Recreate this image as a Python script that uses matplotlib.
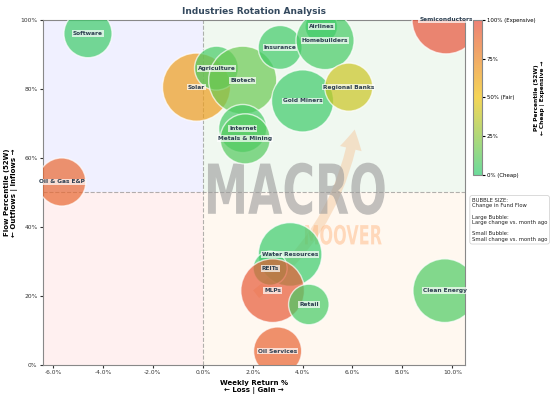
import numpy as np
import matplotlib
matplotlib.use("Agg")
import matplotlib.pyplot as plt
from matplotlib.colors import LinearSegmentedColormap
from matplotlib.ticker import FuncFormatter
from matplotlib.textpath import TextPath
from matplotlib.font_manager import FontProperties
from matplotlib.patches import PathPatch
from matplotlib.path import Path

# industry data
industries = ["Software", "Oil & Gas E&P", "Solar", "Agriculture", "Biotech",
              "Internet", "Metals & Mining", "Insurance", "Airlines", "Homebuilders",
              "Gold Miners", "Regional Banks", "Semiconductors", "Water Resources",
              "REITs", "MLPs", "Retail", "Clean Energy", "Oil Services"]
weekly_return = [-4.6, -5.65, -0.25, 0.55, 1.6,
                 1.6, 1.7, 3.1, 4.75, 4.9,
                 4.0, 5.85, 9.75, 3.5,
                 2.7, 2.8, 4.25, 9.7, 3.0]
flow_pct = [96, 53, 80.5, 86, 82.5,
            68.5, 65.5, 92, 98, 94,
            76.5, 80.5, 100, 32,
            28, 21.5, 17.5, 21.5, 4]
pe_pct = [4, 88, 66, 6, 16,
          6, 10, 5, 2, 6,
          4, 40, 97, 3,
          4, 94, 6, 8, 90]
flow_change = [12, 12, 24, 10, 24,
               12, 13, 10, 5.5, 17.5,
               20, 12, 24, 21,
               6, 21, 8.5, 21, 12]

cmap = LinearSegmentedColormap.from_list("pe", ["#2ecc71", "#f1c40f", "#e74c3c"])


def logo_text(ax, s, box, color, alpha):
    # squeeze a word into a box given in axes fraction (x0, y0, x1, y1)
    tp = TextPath((0, 0), s, size=10, prop=FontProperties(family="DejaVu Sans", weight="bold"))
    ext = tp.get_extents()
    v = tp.vertices.copy()
    v[:, 0] = box[0] + (v[:, 0] - ext.x0) / ext.width * (box[2] - box[0])
    v[:, 1] = box[1] + (v[:, 1] - ext.y0) / ext.height * (box[3] - box[1])
    ax.add_patch(PathPatch(Path(v, tp.codes), transform=ax.transAxes, fc=color,
                           ec="none", alpha=alpha, zorder=1))


fig = plt.figure(figsize=(5.52, 3.97), dpi=100)
ax = fig.add_axes([0.078, 0.081, 0.764, 0.869])

xmin, xmax = -6.4, 10.5
ax.set_xlim(xmin, xmax)
ax.set_ylim(0, 100)

# quadrant backgrounds
ax.axvspan(xmin, 0, ymin=0.5, ymax=1, color="#f0f0ff", zorder=0, lw=0)
ax.axvspan(0, xmax, ymin=0.5, ymax=1, color="#f0f8f0", zorder=0, lw=0)
ax.axvspan(xmin, 0, ymin=0, ymax=0.5, color="#fff0f0", zorder=0, lw=0)
ax.axvspan(0, xmax, ymin=0, ymax=0.5, color="#fff8f0", zorder=0, lw=0)
ax.axvline(0, color="grey", ls="--", lw=0.8, alpha=0.6, zorder=1)
ax.axhline(50, color="grey", ls="--", lw=0.8, alpha=0.6, zorder=1)

# watermark
ax.annotate("", xy=(0.74, 0.69), xytext=(0.5, 0.2), xycoords="axes fraction",
            arrowprops=dict(arrowstyle="simple,head_width=1.6,head_length=1.4,tail_width=0.7",
                            color="#f5c9a0", alpha=0.5, lw=0,
                            connectionstyle="arc3,rad=0.2"), zorder=1)
logo_text(ax, "MACRO", (0.391, 0.435, 0.81, 0.586), "#9a9a9a", 0.6)
logo_text(ax, "MOOVER", (0.621, 0.348, 0.803, 0.406), "#ffb27a", 0.45)

sizes = np.array(flow_change) * 100
sc = ax.scatter(weekly_return, flow_pct, s=sizes, c=pe_pct, cmap=cmap, vmin=0, vmax=100,
                alpha=0.7, edgecolors="white", linewidths=1, zorder=3)

for name, x, y in zip(industries, weekly_return, flow_pct):
    ax.text(x, y, name, fontsize=4.2, fontweight="bold", color="#2c3e50",
            ha="center", va="center", zorder=4,
            bbox=dict(boxstyle="square,pad=0.15", fc="white", ec="none", alpha=0.7))

ax.xaxis.set_major_formatter(FuncFormatter(lambda v, p: f"{v:.1f}%"))
ax.yaxis.set_major_formatter(FuncFormatter(lambda v, p: f"{v:.0f}%"))
ax.set_xticks(np.arange(-6, 10.1, 2))
ax.set_yticks(np.arange(0, 101, 20))
ax.tick_params(labelsize=4.3, colors="#333333", length=2, pad=2)
for s in ax.spines.values():
    s.set_color("#888888")

ax.set_xlabel("Weekly Return %\n← Loss | Gain →", fontsize=5, fontweight="bold", labelpad=3)
ax.set_ylabel("Flow Percentile (52W)\n← Outflows | Inflows →", fontsize=5, fontweight="bold", labelpad=2)
ax.set_title("Industries Rotation Analysis", fontsize=6.5, fontweight="bold", color="#34495e", pad=4)

cax = fig.add_axes([0.857, 0.559, 0.016, 0.391])
cb = fig.colorbar(sc, cax=cax)
cb.set_ticks([0, 25, 50, 75, 100])
cb.set_ticklabels(["0% (Cheap)", "25%", "50% (Fair)", "75%", "100% (Expensive)"])
cb.ax.tick_params(labelsize=3.9, length=2, pad=1.5)
cb.outline.set_edgecolor("#888888")
fig.text(0.9775, 0.754, "PE Percentile (52W)\n← Cheap | Expensive →", fontsize=4.2,
         fontweight="bold", rotation=90, ha="center", va="center", multialignment="center")

fig.text(0.855, 0.502, "BUBBLE SIZE:\nChange in Fund Flow\n\nLarge Bubble:\nLarge change vs. month ago\n\n"
         "Small Bubble:\nSmall change vs. month ago", fontsize=3.8, va="top", ha="left",
         color="#222222", linespacing=1.15,
         bbox=dict(boxstyle="round,pad=0.4", fc="white", ec="#cccccc", lw=0.5))

fig.savefig("out.png", dpi=100)
